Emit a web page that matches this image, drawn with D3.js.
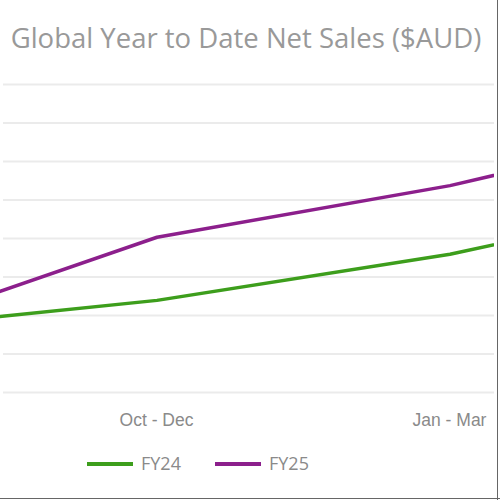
<!DOCTYPE html>
<html>
<head>
<meta charset="utf-8">
<script src="https://cdn.jsdelivr.net/npm/d3@7"></script>
<style>
  body { margin: 0; background: #fff; }
  svg { display: block; font-family: "Open Sans", sans-serif; }
</style>
</head>
<body>
<div id="chart"></div>
<script>
// data (YTD cumulative net sales, millions AUD)
const quarters = ["Jul - Sep", "Oct - Dec", "Jan - Mar", "Apr - Jun"]
const fy24 = [8.0, 11.9, 17.9, 26.0]
const fy25 = [7.0, 20.1, 26.8, 35.7]
const seriesNames = ["FY24", "FY25"]
const seriesColors = ["#3d9e1c", "#8c1f8c"]
const yTicks = [0, 5, 10, 15, 20, 25, 30, 35, 40]

const width = 500, height = 500
const plotRight = 494

const svg = d3.select("#chart").append("svg")
    .attr("width", width)
    .attr("height", height)

// frame edges (the shot is a crop of a wider panel)
svg.append("line")
    .attr("x1", 497.5).attr("x2", 497.5).attr("y1", 0).attr("y2", 500)
    .attr("stroke", "#666").attr("stroke-width", 1)
svg.append("line")
    .attr("x1", 0).attr("x2", 500).attr("y1", 498.5).attr("y2", 498.5)
    .attr("stroke", "#666").attr("stroke-width", 1)

// title
svg.append("text")
    .attr("x", 246)
    .attr("y", 48)
    .attr("text-anchor", "middle")
    .attr("fill", "#999")
    .style("font-size", "27.5px")
    .text("Global Year to Date Net Sales ($AUD)")

// scales
const xScale = d3.scalePoint()
    .domain(quarters)
    .range([-136, 743])

const yScale = d3.scaleLinear()
    .domain([0, 40])
    .range([392, 84])

svg.append("clipPath")
    .attr("id", "clip")
    .append("rect")
    .attr("x", 0).attr("y", 0)
    .attr("width", plotRight).attr("height", 500)

const plot = svg.append("g").attr("clip-path", "url(#clip)")

// gridlines
plot.append("g")
    .attr("class", "grid")
    .attr("transform", "translate(3,0)")
    .call(d3.axisLeft(yScale).tickValues(yTicks).tickSize(-491).tickFormat(""))
    .call(g => g.select(".domain").remove())
    .call(g => g.selectAll("line").attr("stroke", "#ebebeb").attr("stroke-width", 2))

// x-axis labels, only the ones inside the visible window
const visible = quarters.filter(q => xScale(q) >= 0 && xScale(q) <= plotRight)
svg.append("g")
    .attr("transform", "translate(-1,411)")
    .call(d3.axisBottom(xScale).tickValues(visible).tickSize(0))
    .call(g => g.select(".domain").remove())
    .call(g => g.selectAll("text")
        .attr("fill", "#8a8a8a")
        .style("font-size", "17.5px"))

// lines
const lineGen = d3.line()
    .x((d, i) => xScale(quarters[i]))
    .y(d => yScale(d))

plot.selectAll(".series")
    .data([fy24, fy25])
    .join("path")
    .attr("class", "series")
    .attr("d", lineGen)
    .attr("fill", "none")
    .attr("stroke", (d, i) => seriesColors[i])
    .attr("stroke-width", 3.5)
    .attr("stroke-linejoin", "round")

// legend
const legend = svg.append("g")
    .attr("transform", "translate(87,464)")

const items = legend.selectAll("g")
    .data(seriesNames)
    .join("g")
    .attr("transform", (d, i) => `translate(${i * 128},0)`)

items.append("line")
    .attr("x1", 0).attr("x2", 46)
    .attr("stroke", (d, i) => seriesColors[i])
    .attr("stroke-width", 4)

items.append("text")
    .attr("x", 54)
    .attr("dy", "0.35em")
    .attr("fill", "#8a8a8a")
    .style("font-size", "18px")
    .text(d => d)
</script>
</body>
</html>
